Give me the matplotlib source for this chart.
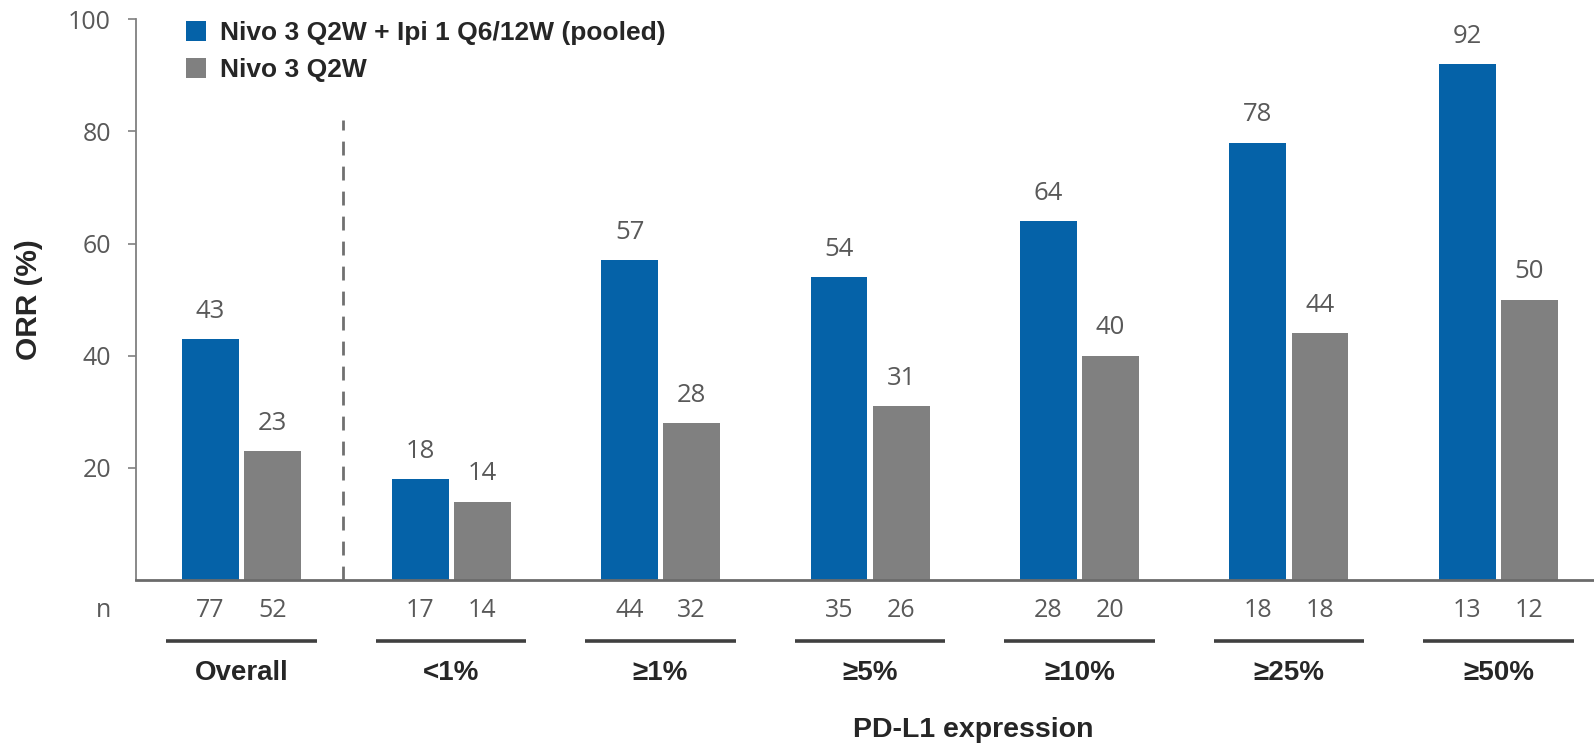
import matplotlib
matplotlib.use("Agg")
import matplotlib.pyplot as plt
import numpy as np

categories = ["Overall", "<1%", "≥1%", "≥5%", "≥10%", "≥25%", "≥50%"]
combo_orr = [43, 18, 57, 54, 64, 78, 92]
nivo_orr = [23, 14, 28, 31, 40, 44, 50]
combo_n = [77, 17, 44, 35, 28, 18, 13]
nivo_n = [52, 14, 32, 26, 20, 18, 12]
series_names = ["Nivo 3 Q2W + Ipi 1 Q6/12W (pooled)", "Nivo 3 Q2W"]
yticks = [20, 40, 60, 80, 100]

BLUE = "#0562a8"
GREY = "#808080"
TEXT_GREY = "#595959"
DARK = "#262626"

num_font = ["Open Sans", "DejaVu Sans"]
bold_font = ["Liberation Sans", "DejaVu Sans"]

fig = plt.figure(figsize=(15.94, 7.44), dpi=100)
ax = fig.add_axes([0.0853, 0.2204, 0.9147, 0.7536])

x = np.arange(len(categories))
w = 0.272
off = 0.148
b1 = ax.bar(x - off, combo_orr, width=w, color=BLUE, label=series_names[0], zorder=2)
b2 = ax.bar(x + off, nivo_orr, width=w, color=GREY, label=series_names[1], zorder=2)

for bars, vals in ((b1, combo_orr), (b2, nivo_orr)):
    for rect, v in zip(bars, vals):
        ax.annotate(str(v), (rect.get_x() + rect.get_width() / 2, v),
                    xytext=(0, 11), textcoords="offset points",
                    ha="center", va="bottom", fontsize=18.5,
                    color=TEXT_GREY, family=num_font)

ax.set_xlim(-0.504, 6.456)
ax.set_ylim(0, 100)
ax.set_yticks(yticks)
ax.set_yticklabels([str(t) for t in yticks], fontsize=18, color=TEXT_GREY, family=num_font)
ax.set_xticks([])
ax.tick_params(axis="y", direction="out", length=6, width=1.2, color=GREY, pad=12)

for s in ("top", "right"):
    ax.spines[s].set_visible(False)
ax.spines["left"].set_color(GREY)
ax.spines["left"].set_linewidth(1.3)
ax.spines["bottom"].set_color("#6b6b6b")
ax.spines["bottom"].set_linewidth(2)

# separator between the overall group and PD-L1 subgroups
ax.plot([0.4845, 0.4845], [0, 82], ls=(0, (5, 4)), color="#707070", lw=2, zorder=1)

ax.set_ylabel("ORR (%)", fontsize=21.5, fontweight="bold", color=DARK,
              family=bold_font, labelpad=0)
ax.yaxis.set_label_coords(-0.0638, 0.5)

trans = ax.get_xaxis_transform()
n_y = -0.0535
for i in range(len(categories)):
    ax.text(x[i] - off, n_y, str(combo_n[i]), transform=trans, ha="center", va="center",
            fontsize=18, color=TEXT_GREY, family=num_font, clip_on=False)
    ax.text(x[i] + off, n_y, str(nivo_n[i]), transform=trans, ha="center", va="center",
            fontsize=18, color=TEXT_GREY, family=num_font, clip_on=False)
    ax.plot([x[i] - 0.36, x[i] + 0.36], [-0.108, -0.108], transform=trans,
            color="#404040", lw=2.6, clip_on=False, solid_capstyle="butt")
    ax.text(x[i], -0.166, categories[i], transform=trans, ha="center", va="center",
            fontsize=20, fontweight="bold", color=DARK, family=bold_font, clip_on=False)

ax.text(-0.661, n_y, "n", transform=trans, ha="center", va="center",
        fontsize=18, color=TEXT_GREY, family=num_font, clip_on=False)
fig.text(973 / 1594, 1 - 730 / 744, "PD-L1 expression", ha="center", va="center",
         fontsize=20.5, fontweight="bold", color=DARK, family=bold_font)

leg = ax.legend(loc="upper left", bbox_to_anchor=(0.0343, 0.997), frameon=False,
                prop={"family": bold_font, "weight": "bold", "size": 19},
                handlelength=0.76, handleheight=0.76, handletextpad=0.53,
                labelspacing=0.5, borderaxespad=0, borderpad=0)
for t in leg.get_texts():
    t.set_color(DARK)

fig.savefig("out.png", dpi=100)
